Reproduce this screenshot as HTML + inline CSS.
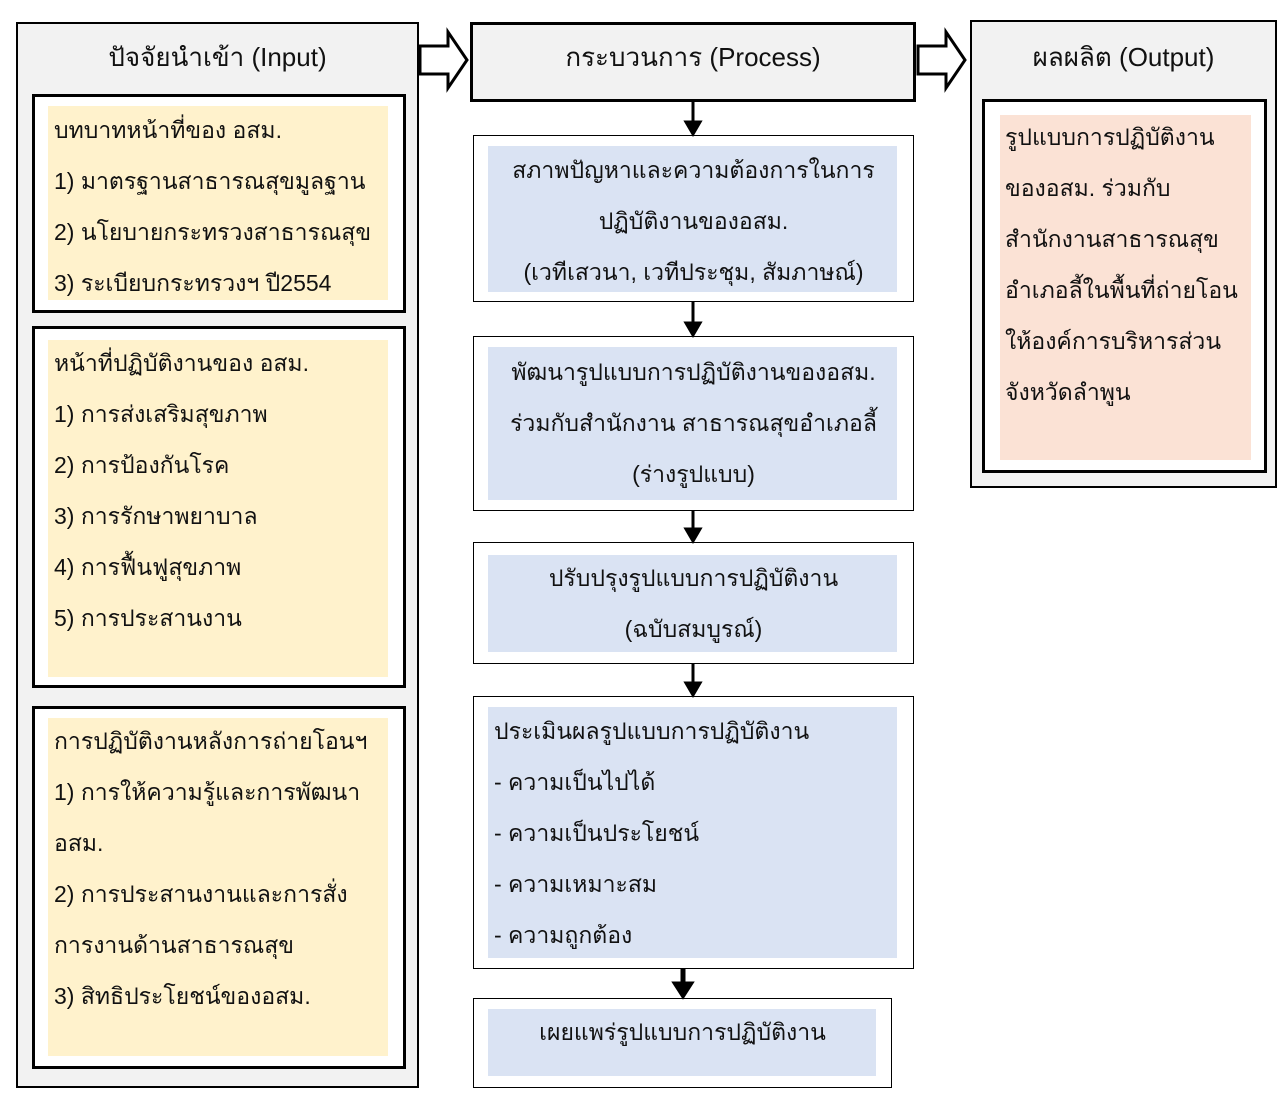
<!DOCTYPE html>
<html><head><meta charset="utf-8"><style>
body{margin:0;width:1286px;height:1105px;background:#fff;position:relative;font-family:"Liberation Sans","DejaVu Sans",sans-serif;color:#111;overflow:hidden}
div{position:absolute;box-sizing:border-box}
.t{font-size:23px;white-space:nowrap;line-height:51px}
.c{text-align:center}
</style></head><body>
<!-- Input -->
<div style="left:16px;top:22px;width:403px;height:1066px;background:#f2f2f2;border:2px solid #000"></div>
<div class="t c" style="left:16px;top:32px;width:403px;font-size:26px">ปัจจัยนำเข้า (Input)</div>
<div style="left:32px;top:94px;width:374px;height:219px;background:#fff;border:3px solid #000"></div>
<div style="left:48px;top:106px;width:340px;height:194px;background:#fff2cc"></div>
<div class="t" style="left:54px;top:105px">บทบาทหน้าที่ของ อสม.<br>1) มาตรฐานสาธารณสุขมูลฐาน<br>2) นโยบายกระทรวงสาธารณสุข<br>3) ระเบียบกระทรวงฯ ปี2554</div>
<div style="left:32px;top:326px;width:374px;height:362px;background:#fff;border:3px solid #000"></div>
<div style="left:48px;top:340px;width:340px;height:337px;background:#fff2cc"></div>
<div class="t" style="left:54px;top:338px">หน้าที่ปฏิบัติงานของ อสม.<br>1) การส่งเสริมสุขภาพ<br>2) การป้องกันโรค<br>3) การรักษาพยาบาล<br>4) การฟื้นฟูสุขภาพ<br>5) การประสานงาน</div>
<div style="left:32px;top:706px;width:374px;height:363px;background:#fff;border:3px solid #000"></div>
<div style="left:48px;top:718px;width:340px;height:338px;background:#fff2cc"></div>
<div class="t" style="left:54px;top:716px">การปฏิบัติงานหลังการถ่ายโอนฯ<br>1) การให้ความรู้และการพัฒนา<br>อสม.<br>2) การประสานงานและการสั่ง<br>การงานด้านสาธารณสุข<br>3) สิทธิประโยชน์ของอสม.</div>
<!-- hollow arrows -->
<svg style="position:absolute;left:0;top:0" width="1286" height="1105">
<polygon points="420,46 448,46 448,32 467,60 448,88 448,74 420,74" fill="#fff" stroke="#000" stroke-width="3"/>
<polygon points="918,46 946,46 946,32 965,60 946,88 946,74 918,74" fill="#fff" stroke="#000" stroke-width="3"/>
<g stroke="#000" stroke-width="3" fill="#000">
<line x1="693" y1="101" x2="693" y2="124"/><polygon points="686,122 700,122 693,134"/>
<line x1="693" y1="302" x2="693" y2="325"/><polygon points="686,323 700,323 693,335"/>
<line x1="693" y1="511" x2="693" y2="531"/><polygon points="686,529 700,529 693,541"/>
<line x1="693" y1="664" x2="693" y2="685"/><polygon points="686,683 700,683 693,695"/>
<line x1="683" y1="969" x2="683" y2="986" stroke-width="5"/><polygon points="674,983 692,983 683,997"/>
</g>
</svg>
<!-- Process -->
<div style="left:470px;top:22px;width:446px;height:80px;background:#f2f2f2;border:3px solid #000"></div>
<div class="t c" style="left:470px;top:32px;width:446px;font-size:26px">กระบวนการ (Process)</div>
<div style="left:473px;top:135px;width:441px;height:167px;border:1px solid #000"></div>
<div style="left:488px;top:146px;width:409px;height:146px;background:#dae3f3"></div>
<div class="t c" style="left:473px;top:145px;width:441px">สภาพปัญหาและความต้องการในการ<br>ปฏิบัติงานของอสม.<br>(เวทีเสวนา, เวทีประชุม, สัมภาษณ์)</div>
<div style="left:473px;top:336px;width:441px;height:175px;border:1px solid #000"></div>
<div style="left:488px;top:347px;width:409px;height:153px;background:#dae3f3"></div>
<div class="t c" style="left:473px;top:347px;width:441px">พัฒนารูปแบบการปฏิบัติงานของอสม.<br>ร่วมกับสำนักงาน สาธารณสุขอำเภอลี้<br>(ร่างรูปแบบ)</div>
<div style="left:473px;top:542px;width:441px;height:122px;border:1px solid #000"></div>
<div style="left:488px;top:555px;width:409px;height:97px;background:#dae3f3"></div>
<div class="t c" style="left:473px;top:553px;width:441px">ปรับปรุงรูปแบบการปฏิบัติงาน<br>(ฉบับสมบูรณ์)</div>
<div style="left:473px;top:696px;width:441px;height:273px;border:1px solid #000"></div>
<div style="left:488px;top:707px;width:409px;height:251px;background:#dae3f3"></div>
<div class="t" style="left:494px;top:706px">ประเมินผลรูปแบบการปฏิบัติงาน<br>- ความเป็นไปได้<br>- ความเป็นประโยชน์<br>- ความเหมาะสม<br>- ความถูกต้อง</div>
<div style="left:473px;top:998px;width:419px;height:90px;border:1px solid #000"></div>
<div style="left:488px;top:1009px;width:388px;height:67px;background:#dae3f3"></div>
<div class="t c" style="left:473px;top:1007px;width:419px">เผยแพร่รูปแบบการปฏิบัติงาน</div>
<!-- Output -->
<div style="left:970px;top:20px;width:307px;height:468px;background:#f2f2f2;border:2px solid #000"></div>
<div class="t c" style="left:970px;top:32px;width:307px;font-size:26px">ผลผลิต (Output)</div>
<div style="left:982px;top:99px;width:285px;height:374px;background:#fff;border:3px solid #000"></div>
<div style="left:1000px;top:115px;width:251px;height:345px;background:#fbe2d5"></div>
<div class="t" style="left:1005px;top:112px">รูปแบบการปฏิบัติงาน<br>ของอสม. ร่วมกับ<br>สำนักงานสาธารณสุข<br>อำเภอลี้ในพื้นที่ถ่ายโอน<br>ให้องค์การบริหารส่วน<br>จังหวัดลำพูน</div>
</body></html>
